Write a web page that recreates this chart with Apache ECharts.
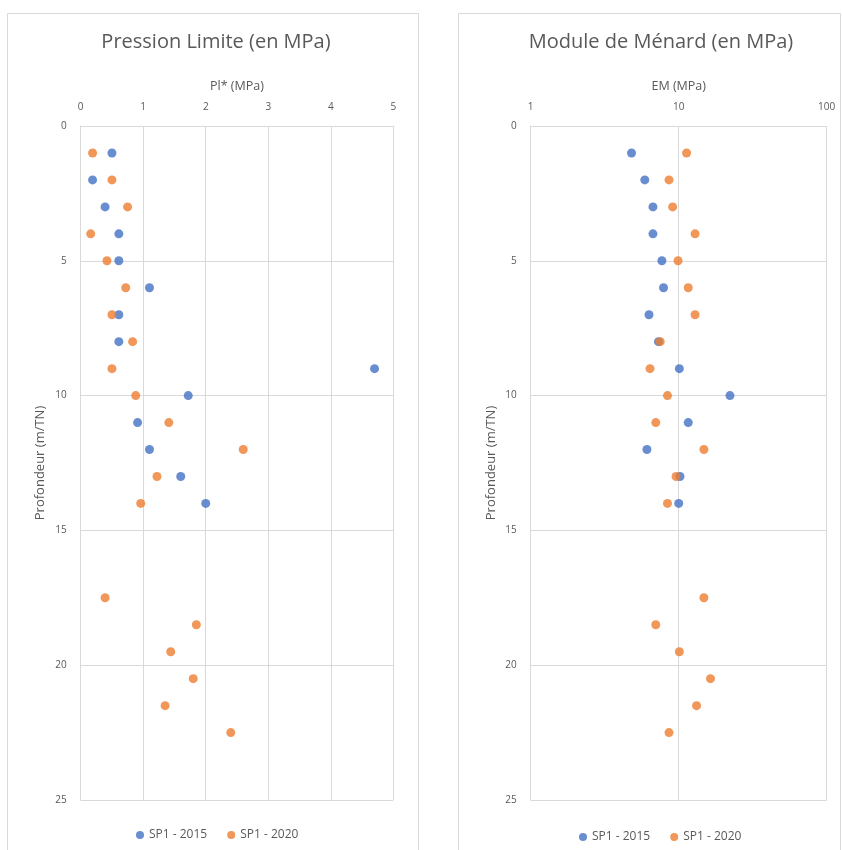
<!DOCTYPE html>
<html>
<head>
<meta charset="utf-8">
<script src="https://cdn.jsdelivr.net/npm/echarts@6/dist/echarts.min.js"></script>
<style>html,body{margin:0;padding:0;background:#fff;}#c{width:842px;height:850px;}</style>
</head>
<body>
<div id="c"></div>
<script>
// Depths (m/TN)
const depth2015 = [1,2,3,4,5,6,7,8,9,10,11,12,13,14];
const depth2020 = [1,2,3,4,5,6,7,8,9,10,11,12,13,14,17.5,18.5,19.5,20.5,21.5,22.5];
// Pl* (MPa)
const pl2015 = [0.50,0.19,0.39,0.61,0.61,1.10,0.61,0.61,4.70,1.72,0.91,1.10,1.60,2.00];
const pl2020 = [0.19,0.50,0.75,0.16,0.42,0.72,0.50,0.83,0.50,0.88,1.41,2.60,1.22,0.96,0.39,1.85,1.44,1.80,1.35,2.40];
// EM (MPa)
const em2015 = [4.8,5.9,6.7,6.7,7.7,7.9,6.3,7.3,10.1,22.2,11.6,6.1,10.2,10.0];
const em2020 = [11.3,8.6,9.1,12.9,9.9,11.6,12.9,7.5,6.4,8.4,7.0,14.8,9.6,8.4,14.8,7.0,10.1,16.4,13.2,8.6];
const seriesNames = ['SP1 - 2015','SP1 - 2020'];
const titles = ['Pression Limite (en MPa)','Module de Ménard (en MPa)'];
const xNames = ['Pl* (MPa)','EM (MPa)'];
const yName = 'Profondeur (m/TN)';

const zip = (xs, ys) => xs.map((v,i)=>[v, ys[i]]);
const txt = '#595959', grid = '#d9d9d9';
const font = '"Open Sans", "Liberation Sans", sans-serif';
const blue = '#4472C4', orange = '#ED7D31';

const yAxisBase = (gi) => ({
  gridIndex: gi, type:'value', inverse:true, min:0, max:25, interval:5,
  name: yName, nameLocation:'middle', nameGap: gi===0?34:33,
  nameTextStyle:{color:txt, fontSize:13, fontFamily:font},
  axisLine:{show:true, lineStyle:{color:grid}}, axisTick:{show:false},
  axisLabel:{color:txt, fontSize:10, fontFamily:font, margin:14},
  splitLine:{show:true, lineStyle:{color:grid}}
});

const chart = echarts.init(document.getElementById('c'), null, {renderer:'canvas'});
chart.setOption({
  animation:false,
  backgroundColor:'#fff',
  graphic:[
    {type:'rect', shape:{x:7.5,y:13.5,width:411,height:860}, style:{fill:'none', stroke:grid, lineWidth:1}, silent:true},
    {type:'rect', shape:{x:458.5,y:13.5,width:382,height:860}, style:{fill:'none', stroke:grid, lineWidth:1}, silent:true}
  ],
  title:[
    {text:titles[0], left:211, top:27, textAlign:'center', textStyle:{color:txt, fontSize:20, fontWeight:'normal', fontFamily:font}},
    {text:titles[1], left:656, top:27, textAlign:'center', textStyle:{color:txt, fontSize:20, fontWeight:'normal', fontFamily:font}}
  ],
  legend:[
    {data:seriesNames, left:131, top:824, icon:'circle', itemWidth:8, itemHeight:8, itemGap:20,
     textStyle:{color:txt, fontSize:12, fontFamily:font}},
    {data:seriesNames, left:574, top:826, icon:'circle', itemWidth:8, itemHeight:8, itemGap:20,
     textStyle:{color:txt, fontSize:12, fontFamily:font}}
  ],
  grid:[
    {left:80.7, top:126, width:312.6, height:674},
    {left:530.7, top:126, width:296, height:674}
  ],
  xAxis:[
    {gridIndex:0, type:'value', position:'top', min:0, max:5, interval:1,
     name:xNames[0], nameLocation:'middle', nameGap:33,
     nameTextStyle:{color:txt, fontSize:12.5, fontFamily:font},
     axisLine:{show:true, lineStyle:{color:grid}}, axisTick:{show:false},
     axisLabel:{color:txt, fontSize:10, fontFamily:font, margin:14},
     splitLine:{show:true, lineStyle:{color:grid}}},
    {gridIndex:1, type:'log', logBase:10, position:'top', min:1, max:100,
     name:xNames[1], nameLocation:'middle', nameGap:33,
     nameTextStyle:{color:txt, fontSize:12.5, fontFamily:font},
     axisLine:{show:true, lineStyle:{color:grid}}, axisTick:{show:false},
     axisLabel:{color:txt, fontSize:10, fontFamily:font, margin:14},
     splitLine:{show:true, lineStyle:{color:grid}}, minorSplitLine:{show:false}}
  ],
  yAxis:[yAxisBase(0), yAxisBase(1)],
  series:[
    {name:seriesNames[0], type:'scatter', xAxisIndex:0, yAxisIndex:0, symbolSize:9, itemStyle:{color:blue}, data:zip(pl2015, depth2015)},
    {name:seriesNames[1], type:'scatter', xAxisIndex:0, yAxisIndex:0, symbolSize:9, itemStyle:{color:orange}, data:zip(pl2020, depth2020)},
    {name:seriesNames[0], type:'scatter', xAxisIndex:1, yAxisIndex:1, symbolSize:9, itemStyle:{color:blue}, data:zip(em2015, depth2015)},
    {name:seriesNames[1], type:'scatter', xAxisIndex:1, yAxisIndex:1, symbolSize:9, itemStyle:{color:orange}, data:zip(em2020, depth2020)}
  ]
});
</script>
</body>
</html>
